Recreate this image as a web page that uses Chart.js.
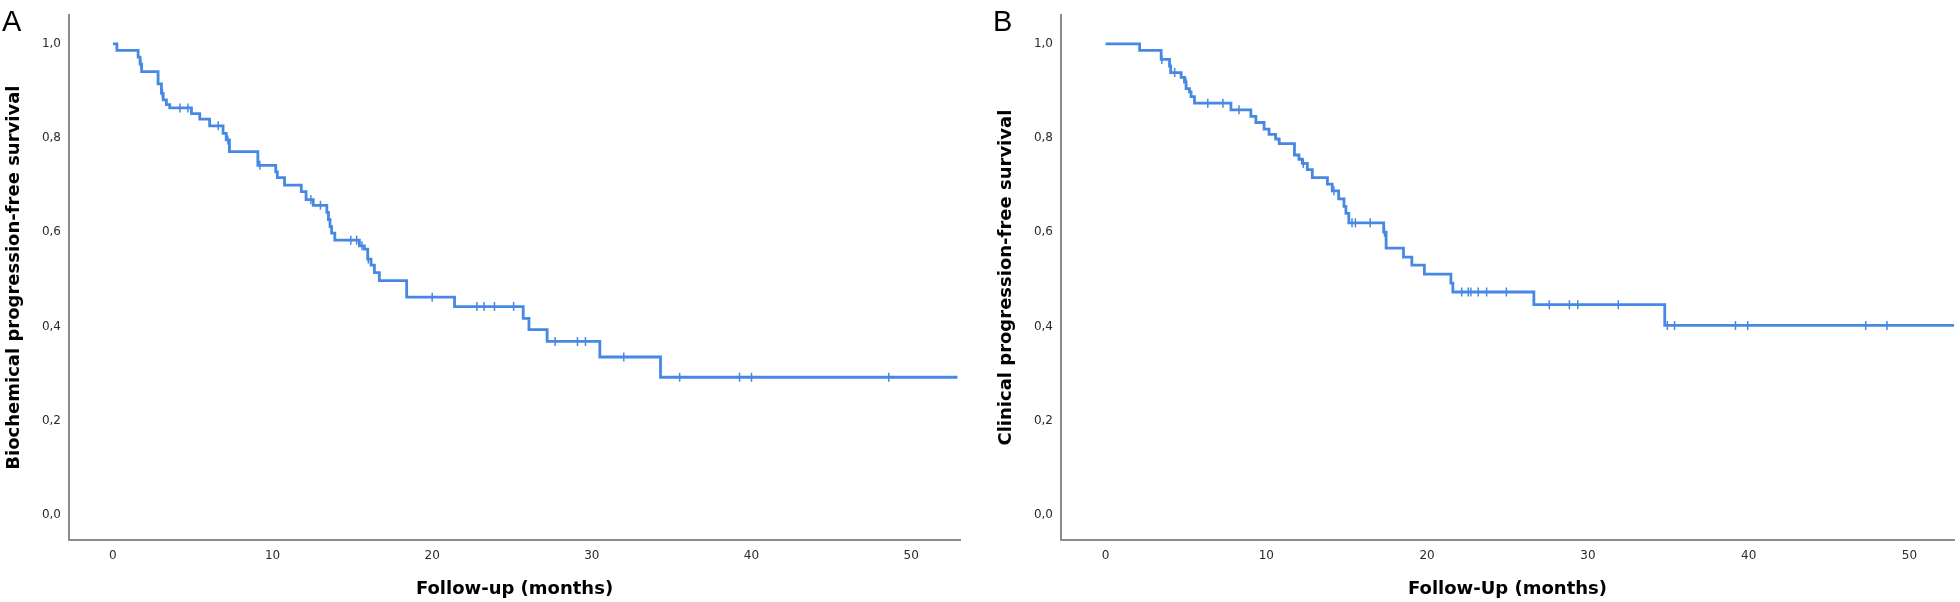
<!DOCTYPE html>
<html><head><meta charset="utf-8">
<script src="https://cdn.jsdelivr.net/npm/chart.js@4.4.1/dist/chart.umd.min.js"></script>
<style>
html,body{margin:0;padding:0;background:#fff;width:1960px;height:602px;overflow:hidden;}
.panel{position:absolute;top:0;height:602px;}
.letter{position:absolute;font-family:"Liberation Sans",Arial,sans-serif;font-size:29px;color:#000;line-height:1;}
</style></head><body>
<div class="panel" style="left:0;width:966px"><canvas id="cA" width="966" height="602"></canvas></div>
<div class="panel" style="left:992px;width:968px"><canvas id="cB" width="968" height="602"></canvas></div>
<div class="letter" style="left:2px;top:7px">A</div>
<div class="letter" style="left:993px;top:7px">B</div>
<script>
// ---- Panel A: biochemical progression-free survival ----
const aTimes = [0.25,1.58,1.7,1.8,2.83,3.04,3.15,3.35,3.56,4.92,5.44,6.06,6.9,7.1,7.3,9.08,10.2,10.3,10.75,11.8,12.1,12.55,13.4,13.5,13.6,13.7,13.9,15.44,15.75,15.96,16.17,16.38,16.69,18.4,21.4,25.7,26.06,27.2,30.5,34.3];
const aSurv  = [0.986,0.972,0.957,0.941,0.915,0.895,0.881,0.871,0.864,0.852,0.840,0.826,0.810,0.796,0.771,0.742,0.728,0.716,0.700,0.686,0.669,0.657,0.642,0.627,0.612,0.598,0.583,0.571,0.564,0.543,0.530,0.514,0.497,0.462,0.442,0.417,0.393,0.368,0.335,0.292];
const aCensored = [1.75,3.1,4.2,4.7,6.6,7.2,9.2,12.4,13.0,14.9,15.27,15.6,16.0,20.0,22.8,23.25,23.9,25.1,27.7,29.1,29.6,32.0,35.5,39.25,40.0,48.6];
const aEnd = 52.9;

// ---- Panel B: clinical progression-free survival ----
const bTimes = [2.12,3.46,3.98,4.05,4.7,4.91,5.01,5.22,5.32,5.53,7.8,9.04,9.35,9.86,10.17,10.58,10.8,11.75,12.03,12.24,12.55,12.86,13.8,14.1,14.5,14.83,14.95,15.13,17.3,17.45,18.53,19.05,19.83,21.48,21.6,26.64,34.78];
const bSurv  = [0.986,0.967,0.953,0.939,0.929,0.919,0.905,0.898,0.888,0.874,0.860,0.846,0.833,0.819,0.808,0.798,0.788,0.764,0.755,0.746,0.733,0.716,0.702,0.688,0.671,0.655,0.640,0.620,0.600,0.566,0.547,0.530,0.511,0.492,0.473,0.446,0.402];
const bCensored = [3.5,4.3,5.0,6.36,7.3,8.3,12.3,14.2,15.33,15.54,16.46,17.35,22.15,22.56,22.72,23.18,23.7,24.93,27.6,28.85,29.37,31.89,34.94,35.39,39.18,39.94,47.28,48.6];
const bEnd = 52.8;

const xTickValues = [0,10,20,30,40,50];
const yTickValues = [0,0.2,0.4,0.6,0.8,1.0];

const BLUE = 'rgb(70,136,228)';

function survAt(times, surv, t){
  let s = 1.0;
  for (let i=0;i<times.length;i++){ if (times[i] <= t) s = surv[i]; }
  return s;
}

function makeChart(id, times, surv, censored, endT, xMin, xMax, rightPad, yTitle, xTitle){
  const curve = [{x:0,y:1.0}].concat(times.map((t,i)=>({x:t,y:surv[i]})));
  curve.push({x:endT, y:surv[surv.length-1]});
  const marks = censored.map(t=>({x:t, y:survAt(times, surv, t)}));
  new Chart(document.getElementById(id), {
    type:'line',
    data:{datasets:[
      {data:curve, stepped:'before', borderColor:BLUE, borderWidth:2.8, pointRadius:0, fill:false},
      {data:marks, showLine:false, pointStyle:'line', rotation:90, pointRadius:4.5, borderColor:BLUE, pointBorderColor:BLUE, pointBorderWidth:1.5, borderWidth:1.5}
    ]},
    options:{
      animation:false, responsive:false, devicePixelRatio:1,
      layout:{padding:{left:0,top:0,right:rightPad,bottom:0}},
      plugins:{legend:{display:false}, tooltip:{enabled:false}},
      scales:{
        x:{type:'linear', min:xMin, max:xMax,
          afterBuildTicks:s=>{s.ticks = xTickValues.map(v=>({value:v}));},
          grid:{display:false, drawTicks:false},
          border:{display:true, color:'#8c8c8c', width:2},
          ticks:{padding:9, color:'#2a2a2a', font:{family:'DejaVu Sans', size:12}, maxRotation:0, autoSkip:false, callback:v=>String(v)},
          title:{display:true, text:xTitle, color:'#000', font:{family:'DejaVu Sans', size:18, weight:'bold'}, padding:{top:0,bottom:2}},
          afterFit:s=>{s.height=62;}
        },
        y:{type:'linear', min:-0.0537, max:1.0609,
          afterBuildTicks:s=>{s.ticks = yTickValues.map(v=>({value:v}));},
          grid:{display:false, drawTicks:false},
          border:{display:true, color:'#8c8c8c', width:2},
          ticks:{padding:8, color:'#2a2a2a', font:{family:'DejaVu Sans', size:12}, autoSkip:false, callback:v=>v.toFixed(1).replace('.',',')},
          title:{display:true, text:yTitle, color:'#000', font:{family:'DejaVu Sans', size:18, weight:'bold'}, padding:{top:4,bottom:0}},
          afterFit:s=>{s.width=69;}
        }
      }
    }
  });
}

makeChart('cA', aTimes, aSurv, aCensored, aEnd, -2.75, 53.06, 4, 'Biochemical progression-free survival', 'Follow-up (months)');
makeChart('cB', bTimes, bSurv, bCensored, bEnd, -2.77, 52.77, 2, 'Clinical progression-free survival', 'Follow-Up (months)');
</script>
</body></html>
